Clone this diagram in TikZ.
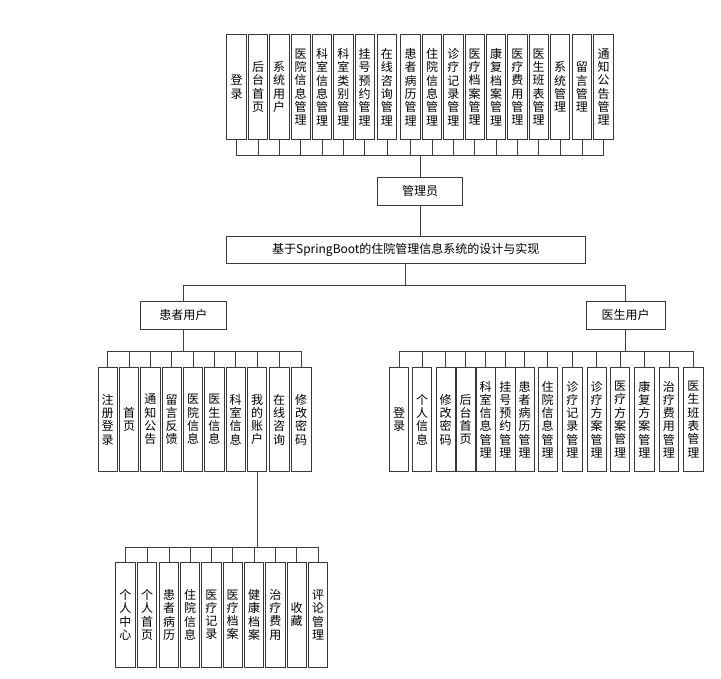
\documentclass[tikz,border=0pt]{standalone}
\usepackage{fontspec}
\setmainfont{Noto Sans CJK SC}
\usetikzlibrary{positioning}
\definecolor{boxline}{HTML}{3A3A3A}
\definecolor{wireline}{HTML}{3F3F3F}
\tikzset{
  leaf/.style={draw=boxline,line width=0.8pt,fill=white,minimum width=19.5pt,
    minimum height=104.4pt,inner sep=0pt,align=center,
    font=\fontsize{12}{13.3}\selectfont},
  hbox/.style={draw=boxline,line width=0.8pt,fill=white,minimum height=27.4pt,
    inner sep=0pt,font=\fontsize{12}{14}\selectfont},
  wire/.style={draw=wireline,line width=0.8pt}
}
\begin{document}
\begin{tikzpicture}[x=1pt,y=-1pt]
  \useasboundingbox (0,0) rectangle (721,679);

  % middle column: admin, system title, the two user kinds
  \node[hbox,minimum width=84.6pt] (admin) at (420,191.3) {管理员};
  \node[hbox,minimum width=359.7pt] (sys) at (405.8,249.7)
    {基于SpringBoot的住院管理信息系统的设计与实现};
  \node[hbox,minimum width=85.3pt] (patient) at (183.3,315.3) {患者用户};
  \node[hbox,minimum width=79.3pt] (doctor) at (625.6,315.3) {医生用户};

  \coordinate (topbus) at (0,155);
  \coordinate (midbus) at (0,285);
  \coordinate (rowbus) at (0,351);
  \coordinate (lowbus) at (0,547.3);

  \draw[wire] (admin.south) -- (admin.south |- sys.north);
  \draw[wire] (sys.south) -- (sys.south |- midbus) -| (patient.north);
  \draw[wire] (sys.south) -- (sys.south |- midbus) -| (doctor.north);

  % admin functions
  \foreach \n/\x/\t in {
      a1/236.5/{登\\录}, a2/258.0/{后\\台\\首\\页}, a3/279.2/{系\\统\\用\\户},
      a4/300.7/{医\\院\\信\\息\\管\\理}, a5/322.0/{科\\室\\信\\息\\管\\理},
      a6/343.4/{科\\室\\类\\别\\管\\理}, a7/364.7/{挂\\号\\预\\约\\管\\理},
      a8/386.9/{在\\线\\咨\\询\\管\\理}, a9/410.5/{患\\者\\病\\历\\管\\理},
      a10/432.0/{住\\院\\信\\息\\管\\理}, a11/453.4/{诊\\疗\\记\\录\\管\\理},
      a12/474.7/{医\\疗\\档\\案\\管\\理}, a13/496.0/{康\\复\\档\\案\\管\\理},
      a14/517.4/{医\\疗\\费\\用\\管\\理}, a15/538.7/{医\\生\\班\\表\\管\\理},
      a16/560.0/{系\\统\\管\\理}, a17/581.9/{留\\言\\管\\理},
      a18/603.5/{通\\知\\公\\告\\管\\理}}{
    \node[leaf] (\n) at (\x,87) {\t};
    \draw[wire] (\n.south) -- (\n.south |- topbus) -| (admin.north);
  }

  % patient functions
  \foreach \n/\x/\t in {
      p1/107.7/{注\\册\\登\\录}, p2/129.0/{首\\页}, p3/150.4/{通\\知\\公\\告},
      p4/171.7/{留\\言\\反\\馈}, p5/193.0/{医\\院\\信\\息}, p6/214.4/{医\\生\\信\\息},
      p7/235.7/{科\\室\\信\\息}, p8/257.0/{我\\的\\账\\户}, p9/279.2/{在\\线\\咨\\询},
      p10/301.2/{修\\改\\密\\码}}{
    \node[leaf] (\n) at (\x,419.5) {\t};
    \draw[wire] (\n.north) -- (\n.north |- rowbus) -| (patient.south);
  }

  % doctor functions
  \foreach \n/\x/\t in {
      d1/399.0/{登\\录}, d2/422.0/{个\\人\\信\\息}, d3/445.7/{修\\改\\密\\码},
      d4/465.7/{后\\台\\首\\页}, d5/485.7/{科\\室\\信\\息\\管\\理},
      d6/505.4/{挂\\号\\预\\约\\管\\理}, d7/524.7/{患\\者\\病\\历\\管\\理},
      d8/547.7/{住\\院\\信\\息\\管\\理}, d9/572.4/{诊\\疗\\记\\录\\管\\理},
      d10/596.7/{诊\\疗\\方\\案\\管\\理}, d11/620.0/{医\\疗\\方\\案\\管\\理},
      d12/644.3/{康\\复\\方\\案\\管\\理}, d13/668.9/{治\\疗\\费\\用\\管\\理},
      d14/693.3/{医\\生\\班\\表\\管\\理}}{
    \node[leaf] (\n) at (\x,419.5) {\t};
    \draw[wire] (\n.north) -- (\n.north |- rowbus) -| (doctor.south);
  }

  % my account sub-functions
  \foreach \n/\x/\t in {
      m1/125.4/{个\\人\\中\\心}, m2/147.0/{个\\人\\首\\页}, m3/169.0/{患\\者\\病\\历},
      m4/190.0/{住\\院\\信\\息}, m5/211.4/{医\\疗\\记\\录}, m6/232.7/{医\\疗\\档\\案},
      m7/254.0/{健\\康\\档\\案}, m8/275.4/{治\\疗\\费\\用}, m9/296.7/{收\\藏},
      m10/318.0/{评\\论\\管\\理}}{
    \node[leaf,minimum height=105pt] (\n) at (\x,614.8) {\t};
    \draw[wire] (\n.north) -- (\n.north |- lowbus) -| (p8.south);
  }
\end{tikzpicture}
\end{document}
